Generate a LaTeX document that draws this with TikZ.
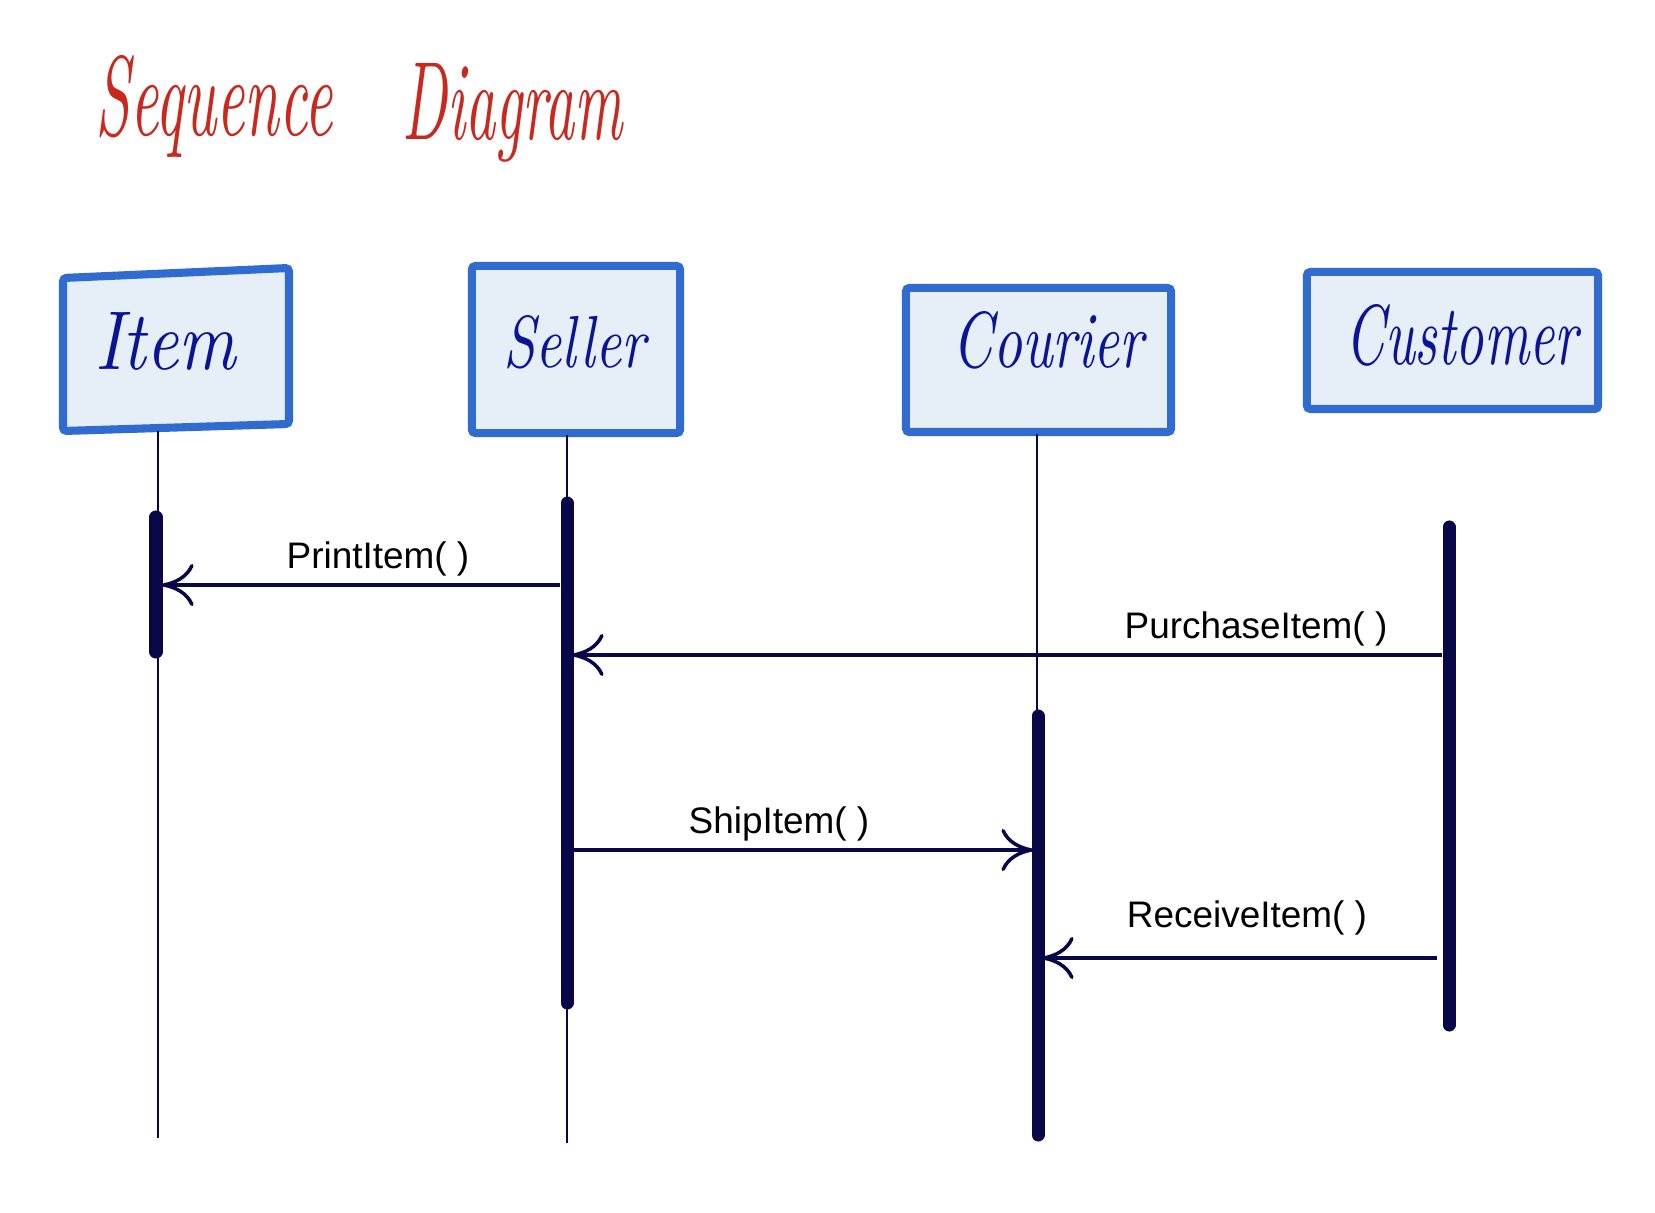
\documentclass[tikz,border=0pt]{standalone}
\usepackage{fontspec}
\usepackage{graphicx}
\newfontfamily\msgfont{Liberation Sans}
\usetikzlibrary{arrows.meta}
\definecolor{boxblue}{RGB}{48,108,208}
\definecolor{boxfill}{RGB}{230,238,248}
\definecolor{handblue}{RGB}{10,20,150}
\definecolor{navy}{RGB}{8,8,72}
\definecolor{titlered}{RGB}{200,40,30}
\begin{document}
\begin{tikzpicture}[x=0.01cm,y=-0.01cm,
 actor/.style={draw=boxblue, fill=boxfill, line width=2.3pt, rounded corners=1pt, inner sep=0pt, outer sep=0pt},
 hand/.style={text=handblue, inner sep=0pt, anchor=base west},
 titletext/.style={text=titlered, inner sep=0pt, anchor=base west},
 lifeline/.style={draw=navy, line width=0.45pt},
 activation/.style={draw=navy, line width=3.7pt, line cap=round},
 msg/.style={draw=navy, line width=1pt, -{Computer Modern Rightarrow[length=9pt,width=12pt]}},
 msglabel/.style={font=\msgfont\fontsize{10.5}{12}\selectfont, anchor=base, inner sep=0pt},
]
\useasboundingbox[fill=white] (0,0) rectangle (1655,1213);

% title
\node[titletext] (title1) at (95,136) {\resizebox{2.37cm}{0.80cm}{\itshape Sequence}};
\node[titletext] (title2) at (402,140) {\resizebox{2.20cm}{0.76cm}{\itshape Diagram}};

% actor boxes
\draw[actor] (63,278) -- (289,268) -- (289,424) -- (63,431) -- cycle;
\node[hand] (itemlabel) at (95,370) {\resizebox{1.40cm}{0.57cm}{\itshape Item}};
\node[actor, minimum width=2.08cm, minimum height=1.67cm] (seller) at (576,349.5) {};
\node[hand] (sellerlabel) at (503,368) {\resizebox{1.42cm}{0.52cm}{\itshape Seller}};
\node[actor, minimum width=2.65cm, minimum height=1.44cm] (courier) at (1038.5,360) {};
\node[hand] (courierlabel) at (952,368) {\resizebox{1.91cm}{0.56cm}{\itshape Courier}};
\node[actor, minimum width=2.91cm, minimum height=1.37cm] (customer) at (1452.5,340.5) {};
\node[hand] (customerlabel) at (1345,365) {\resizebox{2.32cm}{0.60cm}{\itshape Customer}};

% lifelines
\coordinate (itemtop) at (158,431);
\coordinate (itembot) at (158,1138);
\coordinate (sellertop) at (567,435);
\coordinate (sellerbot) at (567,1143);
\coordinate (couriertop) at (1037,434);
\coordinate (courierbot) at (1037,716);
\draw[lifeline] (itemtop) -- (itembot);
\draw[lifeline] (sellertop) -- (sellerbot);
\draw[lifeline] (couriertop) -- (courierbot);

% activations
\coordinate (itemA1) at (156,517);
\coordinate (itemA2) at (156,652);
\coordinate (sellerA1) at (567,503);
\coordinate (sellerA2) at (567,1003);
\coordinate (courierA1) at (1038,716);
\coordinate (courierA2) at (1038,1135);
\coordinate (customerA1) at (1449,527);
\coordinate (customerA2) at (1449,1025);
\draw[activation] (itemA1) -- (itemA2);
\draw[activation] (sellerA1) -- (sellerA2);
\draw[activation] (courierA1) -- (courierA2);
\draw[activation] (customerA1) -- (customerA2);

% messages
\coordinate (m1s) at (560,585);
\coordinate (m1e) at (162,585);
\coordinate (m2s) at (1442,655);
\coordinate (m2e) at (572,655);
\coordinate (m3s) at (574,850);
\coordinate (m3e) at (1033,850);
\coordinate (m4s) at (1437,958);
\coordinate (m4e) at (1042,958);
\draw[msg] (m1s) -- (m1e);
\draw[msg] (m2s) -- (m2e);
\draw[msg] (m3s) -- (m3e);
\draw[msg] (m4s) -- (m4e);
\node[msglabel] (l1) at (378,569) {PrintItem( )};
\node[msglabel] (l2) at (1256,639) {PurchaseItem( )};
\node[msglabel] (l3) at (779,833) {ShipItem( )};
\node[msglabel] (l4) at (1247,927) {ReceiveItem( )};
\end{tikzpicture}
\end{document}
